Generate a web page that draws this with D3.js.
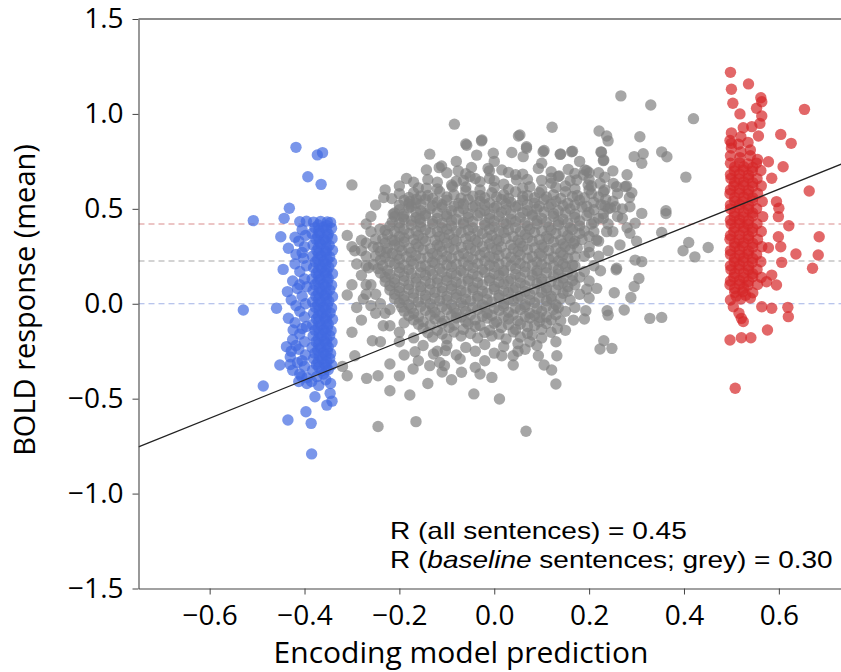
<!DOCTYPE html>
<html><head><meta charset="utf-8">
<script src="https://cdn.jsdelivr.net/npm/d3@7"></script>
<style>body{margin:0;background:#fff}svg{display:block}</style>
</head><body>
<svg id="chart" width="841" height="672"></svg>
<script>
// ---------- data ----------
const xTicks = [-0.6, -0.4, -0.2, 0.0, 0.2, 0.4, 0.6];
const yTicks = [-1.5, -1.0, -0.5, 0.0, 0.5, 1.0, 1.5];
const xLabel = "Encoding model prediction";
const yLabel = "BOLD response (mean)";
const refLineValues = [0.42, 0.225, 0.0];   // red mean, grey mean, blue mean
const fitSlope = 1.005, fitIntercept = 0.0;
const rAll = "0.45", rBaseline = "0.30";

const greyPoints = [
// core rows
[-0.17,0.585],[-0.14,0.57],[-0.115,0.59],[-0.085,0.575],[-0.06,0.595],[-0.03,0.57],[-0.005,0.585],[0.02,0.575],[0.045,0.59],[0.07,0.57],[0.095,0.585],[0.125,0.575],[0.15,0.59],[0.175,0.57],[0.205,0.58],
[-0.19,0.545],[-0.165,0.53],[-0.145,0.55],[-0.12,0.535],[-0.1,0.545],[-0.075,0.53],[-0.055,0.55],[-0.03,0.54],[-0.01,0.53],[0.015,0.55],[0.035,0.535],[0.06,0.545],[0.085,0.53],[0.105,0.55],[0.13,0.54],[0.155,0.53],[0.18,0.545],[0.21,0.535],[0.235,0.55],
[-0.2,0.495],[-0.18,0.505],[-0.155,0.49],[-0.135,0.5],[-0.11,0.51],[-0.09,0.49],[-0.065,0.5],[-0.045,0.51],[-0.02,0.49],[0.0,0.505],[0.025,0.495],[0.045,0.51],[0.07,0.49],[0.09,0.5],[0.115,0.51],[0.135,0.49],[0.16,0.5],[0.185,0.51],[0.21,0.495],[0.245,0.505],
[-0.21,0.46],[-0.19,0.445],[-0.165,0.455],[-0.145,0.465],[-0.12,0.45],[-0.1,0.46],[-0.08,0.445],[-0.055,0.455],[-0.035,0.465],[-0.01,0.45],[0.01,0.46],[0.035,0.445],[0.055,0.455],[0.08,0.465],[0.1,0.45],[0.125,0.46],[0.145,0.445],[0.17,0.455],[0.195,0.465],[0.22,0.45],
[-0.22,0.41],[-0.2,0.4],[-0.175,0.415],[-0.155,0.405],[-0.13,0.42],[-0.11,0.4],[-0.09,0.41],[-0.065,0.42],[-0.045,0.4],[-0.02,0.415],[0.0,0.405],[0.025,0.42],[0.045,0.4],[0.07,0.41],[0.09,0.42],[0.115,0.405],[0.135,0.415],[0.16,0.4],[0.18,0.41],[0.205,0.42],
[-0.225,0.365],[-0.2,0.355],[-0.18,0.37],[-0.16,0.36],[-0.135,0.375],[-0.115,0.355],[-0.095,0.365],[-0.07,0.375],[-0.05,0.355],[-0.025,0.37],[-0.005,0.36],[0.02,0.375],[0.04,0.355],[0.065,0.365],[0.085,0.375],[0.11,0.355],[0.13,0.37],[0.155,0.36],[0.18,0.37],[0.2,0.355],
[-0.23,0.32],[-0.21,0.31],[-0.19,0.325],[-0.165,0.315],[-0.145,0.33],[-0.12,0.31],[-0.1,0.32],[-0.08,0.33],[-0.055,0.31],[-0.035,0.325],[-0.01,0.315],[0.01,0.33],[0.035,0.31],[0.055,0.32],[0.08,0.33],[0.1,0.31],[0.125,0.325],[0.145,0.315],[0.17,0.33],
[-0.24,0.275],[-0.215,0.265],[-0.195,0.28],[-0.175,0.27],[-0.15,0.285],[-0.13,0.265],[-0.11,0.275],[-0.085,0.285],[-0.065,0.265],[-0.04,0.28],[-0.02,0.27],[0.005,0.285],[0.025,0.265],[0.05,0.275],[0.07,0.285],[0.095,0.265],[0.115,0.28],[0.14,0.27],[0.16,0.285],
[-0.24,0.23],[-0.22,0.22],[-0.2,0.235],[-0.175,0.225],[-0.155,0.24],[-0.13,0.22],[-0.11,0.23],[-0.09,0.24],[-0.065,0.22],[-0.045,0.235],[-0.02,0.225],[0.0,0.24],[0.025,0.22],[0.045,0.23],[0.07,0.24],[0.09,0.22],[0.115,0.235],[0.135,0.225],[0.155,0.24],
[-0.245,0.185],[-0.225,0.175],[-0.2,0.19],[-0.18,0.18],[-0.155,0.195],[-0.135,0.175],[-0.115,0.185],[-0.09,0.195],[-0.07,0.175],[-0.045,0.19],[-0.025,0.18],[0.0,0.195],[0.02,0.175],[0.045,0.185],[0.065,0.195],[0.09,0.175],[0.11,0.19],[0.135,0.18],[0.15,0.195],
[-0.23,0.14],[-0.21,0.13],[-0.19,0.145],[-0.165,0.135],[-0.145,0.15],[-0.12,0.13],[-0.1,0.14],[-0.08,0.15],[-0.055,0.13],[-0.035,0.145],[-0.01,0.135],[0.01,0.15],[0.035,0.13],[0.055,0.14],[0.08,0.15],[0.1,0.13],[0.125,0.145],[0.145,0.135],[0.165,0.15],
[-0.22,0.095],[-0.2,0.085],[-0.18,0.1],[-0.155,0.09],[-0.135,0.105],[-0.11,0.085],[-0.09,0.095],[-0.07,0.105],[-0.045,0.085],[-0.025,0.1],[0.0,0.09],[0.02,0.105],[0.045,0.085],[0.065,0.095],[0.09,0.105],[0.11,0.085],[0.135,0.1],[0.155,0.09],
[-0.21,0.05],[-0.19,0.04],[-0.17,0.055],[-0.145,0.045],[-0.125,0.06],[-0.1,0.04],[-0.08,0.05],[-0.06,0.06],[-0.035,0.04],[-0.015,0.055],[0.01,0.045],[0.03,0.06],[0.055,0.04],[0.075,0.05],[0.1,0.06],[0.12,0.04],[0.145,0.055],
[-0.2,0.005],[-0.18,-0.005],[-0.16,0.01],[-0.135,0.0],[-0.115,0.015],[-0.09,-0.005],[-0.07,0.005],[-0.05,0.015],[-0.025,-0.005],[-0.005,0.01],[0.02,0.0],[0.04,0.015],[0.065,-0.005],[0.085,0.005],[0.11,0.015],[0.13,-0.005],
[-0.19,-0.04],[-0.17,-0.05],[-0.145,-0.035],[-0.125,-0.045],[-0.1,-0.03],[-0.08,-0.05],[-0.06,-0.04],[-0.035,-0.03],[-0.015,-0.05],[0.01,-0.035],[0.03,-0.045],[0.055,-0.03],[0.075,-0.05],[0.1,-0.04],[0.125,-0.03],
[-0.17,-0.085],[-0.15,-0.095],[-0.125,-0.08],[-0.105,-0.09],[-0.08,-0.075],[-0.06,-0.095],[-0.04,-0.085],[-0.015,-0.075],[0.005,-0.095],[0.03,-0.08],[0.05,-0.09],[0.075,-0.075],[0.095,-0.095],[0.12,-0.085],
[-0.15,-0.13],[-0.12,-0.14],[-0.095,-0.125],[-0.065,-0.135],[-0.04,-0.12],[-0.01,-0.14],[0.015,-0.125],[0.045,-0.135],[0.07,-0.12],[0.1,-0.135],
[-0.13,-0.175],[-0.1,-0.185],[-0.07,-0.17],[-0.035,-0.18],[-0.005,-0.17],[0.025,-0.185],[0.055,-0.175],[0.08,-0.165],
[-0.1,-0.22],[-0.06,-0.23],[-0.02,-0.215],[0.02,-0.225],[0.05,-0.21],
// core, in-between rows
[-0.18,0.56],[-0.155,0.568],[-0.13,0.555],[-0.1,0.562],[-0.07,0.556],[-0.045,0.566],[-0.02,0.558],[0.005,0.563],[0.03,0.555],[0.06,0.566],[0.085,0.558],[0.11,0.562],[0.14,0.555],[0.165,0.565],[0.19,0.558],[0.22,0.562],
[-0.2,0.52],[-0.175,0.512],[-0.155,0.524],[-0.13,0.516],[-0.11,0.522],[-0.085,0.514],[-0.065,0.526],[-0.04,0.516],[-0.02,0.52],[0.005,0.513],[0.025,0.525],[0.05,0.517],[0.07,0.522],[0.095,0.514],[0.12,0.524],[0.145,0.516],[0.17,0.521],[0.195,0.513],[0.225,0.522],
[-0.21,0.478],[-0.19,0.472],[-0.165,0.482],[-0.145,0.474],[-0.12,0.48],[-0.1,0.471],[-0.075,0.483],[-0.055,0.475],[-0.03,0.479],[-0.01,0.472],[0.015,0.482],[0.035,0.474],[0.06,0.48],[0.08,0.471],[0.105,0.483],[0.125,0.475],[0.15,0.479],[0.17,0.472],[0.2,0.481],[0.23,0.474],
[-0.215,0.432],[-0.2,0.426],[-0.175,0.436],[-0.155,0.428],[-0.13,0.434],[-0.11,0.425],[-0.09,0.437],[-0.065,0.429],[-0.045,0.433],[-0.02,0.426],[0.0,0.436],[0.02,0.428],[0.045,0.434],[0.065,0.425],[0.09,0.437],[0.11,0.429],[0.135,0.433],[0.155,0.426],[0.18,0.436],[0.21,0.428],
[-0.23,0.387],[-0.21,0.381],[-0.19,0.391],[-0.165,0.383],[-0.145,0.389],[-0.12,0.38],[-0.1,0.392],[-0.08,0.384],[-0.055,0.388],[-0.035,0.381],[-0.01,0.391],[0.01,0.383],[0.03,0.389],[0.055,0.38],[0.075,0.392],[0.1,0.384],[0.12,0.388],[0.145,0.381],[0.165,0.391],[0.19,0.383],
[-0.235,0.342],[-0.215,0.336],[-0.19,0.346],[-0.17,0.338],[-0.15,0.344],[-0.125,0.335],[-0.105,0.347],[-0.085,0.339],[-0.06,0.343],[-0.04,0.336],[-0.015,0.346],[0.005,0.338],[0.025,0.344],[0.05,0.335],[0.07,0.347],[0.095,0.339],[0.115,0.343],[0.14,0.336],[0.16,0.346],[0.185,0.338],
[-0.245,0.297],[-0.225,0.291],[-0.2,0.301],[-0.18,0.293],[-0.16,0.299],[-0.135,0.29],[-0.115,0.302],[-0.095,0.294],[-0.07,0.298],[-0.05,0.291],[-0.025,0.301],[-0.005,0.293],[0.015,0.299],[0.04,0.29],[0.06,0.302],[0.085,0.294],[0.105,0.298],[0.13,0.291],[0.15,0.301],[0.175,0.293],
[-0.25,0.252],[-0.23,0.246],[-0.205,0.256],[-0.185,0.248],[-0.165,0.254],[-0.14,0.245],[-0.12,0.257],[-0.1,0.249],[-0.075,0.253],[-0.055,0.246],[-0.03,0.256],[-0.01,0.248],[0.01,0.254],[0.035,0.245],[0.055,0.257],[0.08,0.249],[0.1,0.253],[0.125,0.246],[0.145,0.256],[0.17,0.248],
[-0.255,0.207],[-0.235,0.201],[-0.21,0.211],[-0.19,0.203],[-0.17,0.209],[-0.145,0.2],[-0.125,0.212],[-0.1,0.204],[-0.08,0.208],[-0.055,0.201],[-0.035,0.211],[-0.01,0.203],[0.01,0.209],[0.035,0.2],[0.055,0.212],[0.08,0.204],[0.1,0.208],[0.125,0.201],[0.145,0.211],[0.165,0.203],
[-0.24,0.162],[-0.22,0.156],[-0.2,0.166],[-0.175,0.158],[-0.155,0.164],[-0.13,0.155],[-0.11,0.167],[-0.09,0.159],[-0.065,0.163],[-0.045,0.156],[-0.02,0.166],[0.0,0.158],[0.02,0.164],[0.045,0.155],[0.065,0.167],[0.09,0.159],[0.11,0.163],[0.135,0.156],[0.155,0.166],
[-0.23,0.117],[-0.21,0.111],[-0.19,0.121],[-0.165,0.113],[-0.145,0.119],[-0.12,0.11],[-0.1,0.122],[-0.08,0.114],[-0.055,0.118],[-0.035,0.111],[-0.01,0.121],[0.01,0.113],[0.03,0.119],[0.055,0.11],[0.075,0.122],[0.1,0.114],[0.12,0.118],[0.145,0.111],[0.165,0.121],
[-0.22,0.072],[-0.2,0.066],[-0.18,0.076],[-0.155,0.068],[-0.135,0.074],[-0.11,0.065],[-0.09,0.077],[-0.07,0.069],[-0.045,0.073],[-0.025,0.066],[0.0,0.076],[0.02,0.068],[0.04,0.074],[0.065,0.065],[0.085,0.077],[0.11,0.069],[0.13,0.073],[0.155,0.066],
[-0.21,0.027],[-0.19,0.021],[-0.17,0.031],[-0.145,0.023],[-0.125,0.029],[-0.1,0.02],[-0.08,0.032],[-0.06,0.024],[-0.035,0.028],[-0.015,0.021],[0.01,0.031],[0.03,0.023],[0.05,0.029],[0.075,0.02],[0.095,0.032],[0.12,0.024],[0.14,0.028],
[-0.195,-0.018],[-0.175,-0.024],[-0.155,-0.014],[-0.13,-0.022],[-0.11,-0.016],[-0.085,-0.025],[-0.065,-0.013],[-0.045,-0.021],[-0.02,-0.017],[0.0,-0.024],[0.02,-0.014],[0.045,-0.022],[0.065,-0.016],[0.09,-0.025],[0.11,-0.013],[0.135,-0.021],
[-0.18,-0.063],[-0.16,-0.069],[-0.135,-0.059],[-0.115,-0.067],[-0.09,-0.061],[-0.07,-0.07],[-0.05,-0.058],[-0.025,-0.066],[-0.005,-0.062],[0.02,-0.069],[0.04,-0.059],[0.065,-0.067],[0.085,-0.061],[0.11,-0.07],[0.13,-0.058],
[-0.16,-0.108],[-0.135,-0.114],[-0.11,-0.104],[-0.085,-0.112],[-0.055,-0.106],[-0.03,-0.115],[0.0,-0.103],[0.03,-0.111],[0.055,-0.107],[0.085,-0.114],[0.11,-0.104],
[-0.14,-0.153],[-0.11,-0.159],[-0.085,-0.149],[-0.05,-0.157],[-0.02,-0.151],[0.01,-0.16],[0.04,-0.148],[0.07,-0.156],
[-0.16,0.61],[-0.12,0.605],[-0.06,0.615],[-0.03,0.6],[0.0,0.612],[0.03,0.603],[0.06,0.61],[0.1,0.6],[0.13,0.612],[0.17,0.605],
[-0.14,0.655],[-0.08,0.645],[-0.04,0.66],[0.0,0.648],[0.07,0.655],[0.12,0.662],[0.16,0.648],[0.2,0.655],
[-0.1,0.69],[-0.06,0.685],[0.03,0.692],[0.06,0.683],[0.12,0.695],[0.17,0.686],[0.22,0.69],
// ragged edge of the core
[-0.26,0.46],[-0.25,0.52],[-0.23,0.6],[-0.2,0.58],[-0.26,0.38],[-0.27,0.32],[-0.25,0.34],
[-0.27,0.2],[-0.28,0.28],[-0.27,0.1],[-0.25,0.05],[-0.24,0.0],[-0.23,-0.05],[-0.22,-0.03],
[-0.19,-0.1],[-0.2,-0.15],[-0.17,-0.18],[-0.12,-0.25],[-0.08,-0.27],[-0.04,-0.25],[0.0,-0.26],[0.05,-0.25],[0.09,-0.22],[0.1,-0.18],[0.13,-0.2],[0.15,-0.14],[-0.16,-0.3],[-0.11,-0.36],[-0.03,-0.37],
[0.17,0.2],[0.19,0.17],[0.18,0.05],[0.17,-0.02],[0.19,-0.08],[0.2,0.12],[0.22,0.25],[0.23,0.45],[0.21,0.38],[0.24,0.5],[0.27,0.45],[0.3,0.33],
[-0.17,0.64],[-0.2,0.62],[0.25,0.7],[0.28,0.68],[-0.08,0.75],[0.0,0.75],[0.1,0.74],[0.18,0.75],
// upper / right fringe
[-0.084,0.946],[0.267,1.095],[0.33,1.047],[0.42,0.975],[0.122,0.93],[0.221,0.91],[0.237,0.884],[0.24,0.858],[0.307,0.88],[0.353,0.8],[0.364,0.774],[0.295,0.775],[0.314,0.79],[0.311,0.74],[0.404,0.667],[0.362,0.49],[0.362,0.475],[0.353,0.375],[0.41,0.323],[0.398,0.279],[0.451,0.296],[0.423,0.247],
[0.224,0.174],[0.257,0.179],[0.305,0.133],[0.295,0.091],[0.288,0.033],[0.253,0.058],[0.274,-0.033],[0.238,-0.037],[0.24,-0.06],[0.328,-0.077],[0.353,-0.072],[0.231,-0.195],[0.223,-0.238],[0.248,-0.235],[0.195,0.077],[0.216,0.081],[0.193,-0.037],[0.167,-0.086],[0.133,-0.13],[0.12,-0.15],[0.093,-0.274],[0.132,-0.274],[0.105,-0.323],[0.121,-0.349],[0.13,-0.423],[0.067,-0.672],[0.065,-0.24],[0.075,-0.2],[0.096,-0.072],
// lower / left fringe
[-0.28,-0.086],[-0.31,0.046],[-0.294,-0.274],[-0.31,-0.379],[-0.269,-0.393],[-0.245,-0.379],[-0.22,-0.317],[-0.22,-0.458],[-0.178,-0.481],[-0.245,-0.647],[-0.165,-0.621],[-0.171,-0.344],[-0.257,-0.195],[-0.234,-0.116],[-0.22,-0.116],[-0.136,-0.326],[-0.115,-0.309],[-0.105,-0.326],[-0.072,-0.291],[-0.069,-0.361],[-0.04,-0.335],[-0.043,-0.475],[-0.005,-0.388],[0.011,-0.502],[-0.167,-0.253],[-0.128,-0.265],[-0.103,-0.247],[0.016,-0.274],[0.04,-0.274],[0.04,-0.323],[-0.276,0.025],[-0.26,-0.01],
[-0.31,0.36],[-0.3,0.3],[-0.27,0.25],[-0.28,0.15],[-0.26,0.1],[-0.3,0.1],[-0.27,0.05],[-0.29,-0.02],[-0.3,-0.15],[-0.32,-0.33],[-0.265,0.19],[-0.255,0.3],[-0.27,0.42],[-0.25,-0.05],[-0.24,-0.2],[-0.2,-0.2],[-0.19,-0.27],[-0.15,-0.22],[-0.2,-0.38],[-0.14,-0.42],[-0.09,-0.4],[-0.02,-0.3],
[-0.3,0.626],[-0.185,0.66],[-0.136,0.788],[-0.143,0.705],[-0.111,0.726],[-0.076,0.7],[-0.058,0.835],[-0.027,0.858],[-0.037,0.783],[-0.002,0.793],[0.037,0.797],[0.051,0.884],[-0.048,0.718],[-0.01,0.7],[-0.233,0.56],[-0.216,0.554],[-0.18,0.525],[-0.164,0.551],[-0.143,0.609],[-0.088,0.616],[-0.213,0.472],[-0.192,0.458],[-0.241,0.393],[-0.28,0.335],[-0.294,0.279],[-0.29,0.209],[-0.21,0.332],[-0.227,0.27],[-0.157,0.446],
[-0.06,0.842],[-0.026,0.863],[0.068,0.827],[0.103,0.801],[0.139,0.787],[0.163,0.801],[0.226,0.798],[0.23,0.754],[-0.116,0.717],[-0.013,0.713],[0.016,0.705],[0.061,0.775],[0.093,0.713],[0.135,0.67],[0.156,0.708],[0.191,0.705],[0.2,0.69],[-0.09,0.626],[-0.051,0.67],[-0.03,0.643],[0.047,0.652],[0.075,0.617],[0.1,0.65],[0.174,0.652],[0.198,0.626],[0.223,0.634],[0.251,0.634],[0.276,0.617],[-0.178,0.538],
[-0.12,0.64],[-0.065,0.65],[-0.01,0.66],[0.02,0.63],[0.045,0.68],[0.12,0.635],[0.15,0.62],[0.2,0.6],[0.23,0.59],[0.26,0.58],[0.285,0.56],[0.25,0.54],[0.27,0.5],[0.26,0.46],[0.24,0.42],[0.25,0.38],[0.28,0.4],[0.22,0.33],[0.2,0.3],[0.24,0.28],[0.19,0.25],[0.21,0.2],[0.18,0.14],[0.17,0.1],[0.2,0.03],[0.16,0.02],[0.15,-0.04],[0.14,-0.09],
[0.054,0.889],[0.068,0.819],[0.105,0.807],[0.14,0.789],[0.165,0.803],[0.225,0.8],[0.231,0.757],[0.195,0.701],[0.188,0.678],[0.137,0.673],[0.233,0.666],[0.205,0.62],[0.233,0.6],[0.258,0.617],[0.279,0.62],[0.29,0.585],[0.233,0.515],[0.255,0.511],[0.286,0.511],[0.311,0.476],[0.297,0.424],[0.286,0.371],[0.237,0.38],[0.265,0.31],[0.258,0.187],[0.297,0.23],[0.311,0.222],[0.216,0.336],[0.167,0.318],[0.2,0.27]
];

const bluePoints = [
[-0.418,0.824],[-0.373,0.784],[-0.362,0.796],[-0.393,0.669],[-0.365,0.629],[-0.432,0.503],[-0.443,0.45],[-0.508,0.438],[-0.45,0.353],[-0.434,0.292],[-0.445,0.181],[-0.436,0.064],[-0.529,-0.033],[-0.459,-0.024],[-0.434,-0.076],[-0.424,-0.138],[-0.438,-0.226],[-0.452,-0.323],[-0.487,-0.433],[-0.406,-0.384],[-0.378,-0.49],[-0.346,-0.472],[-0.353,-0.534],[-0.342,-0.513],[-0.435,-0.612],[-0.397,-0.569],[-0.386,-0.63],[-0.385,-0.791],[-0.412,-0.41],[-0.374,-0.384],[-0.395,-0.42],
[-0.41,0.432],[-0.396,0.435],[-0.381,0.43],[-0.366,0.434],[-0.352,0.431],[-0.345,0.428],
[-0.378,0.4],[-0.36,0.403],[-0.343,0.398],[-0.384,0.37],[-0.368,0.372],[-0.35,0.367],[-0.376,0.34],[-0.359,0.338],[-0.342,0.343],
[-0.382,0.31],[-0.366,0.313],[-0.348,0.308],[-0.374,0.28],[-0.356,0.277],[-0.341,0.282],[-0.383,0.25],[-0.365,0.252],[-0.347,0.247],
[-0.377,0.22],[-0.36,0.223],[-0.343,0.218],[-0.381,0.19],[-0.364,0.187],[-0.349,0.192],[-0.375,0.16],[-0.357,0.163],[-0.341,0.158],
[-0.384,0.13],[-0.367,0.128],[-0.35,0.133],[-0.378,0.1],[-0.36,0.103],[-0.343,0.098],[-0.382,0.07],[-0.364,0.067],[-0.347,0.072],
[-0.376,0.04],[-0.358,0.043],[-0.341,0.038],[-0.383,0.01],[-0.366,0.008],[-0.349,0.013],[-0.377,-0.02],[-0.36,-0.017],[-0.343,-0.022],
[-0.381,-0.05],[-0.363,-0.053],[-0.346,-0.048],[-0.375,-0.08],[-0.357,-0.077],[-0.341,-0.082],[-0.383,-0.11],[-0.366,-0.113],[-0.35,-0.108],
[-0.378,-0.14],[-0.36,-0.137],[-0.344,-0.142],[-0.382,-0.17],[-0.364,-0.173],[-0.347,-0.168],[-0.376,-0.2],[-0.358,-0.197],[-0.342,-0.202],
[-0.384,-0.23],[-0.366,-0.233],[-0.35,-0.228],[-0.378,-0.26],[-0.36,-0.257],[-0.345,-0.262],[-0.381,-0.29],[-0.363,-0.293],[-0.347,-0.288],
[-0.375,-0.32],[-0.357,-0.317],[-0.343,-0.322],[-0.383,-0.35],[-0.364,-0.353],[-0.35,-0.348],
[-0.371,0.415],[-0.353,0.412],[-0.37,0.385],[-0.354,0.387],[-0.372,0.355],[-0.352,0.352],[-0.369,0.325],[-0.355,0.327],[-0.371,0.295],[-0.353,0.292],
[-0.37,0.265],[-0.354,0.267],[-0.372,0.235],[-0.352,0.232],[-0.369,0.205],[-0.355,0.207],[-0.371,0.175],[-0.353,0.172],[-0.37,0.145],[-0.354,0.147],
[-0.372,0.115],[-0.352,0.112],[-0.369,0.085],[-0.355,0.087],[-0.371,0.055],[-0.353,0.052],[-0.37,0.025],[-0.354,0.027],[-0.372,-0.005],[-0.352,-0.008],
[-0.369,-0.035],[-0.355,-0.033],[-0.371,-0.065],[-0.353,-0.068],[-0.37,-0.095],[-0.354,-0.093],[-0.372,-0.125],[-0.352,-0.128],[-0.369,-0.155],[-0.355,-0.153],
[-0.371,-0.185],[-0.353,-0.188],[-0.37,-0.215],[-0.354,-0.213],[-0.372,-0.245],[-0.352,-0.248],[-0.369,-0.275],[-0.355,-0.273],[-0.371,-0.305],[-0.353,-0.308],[-0.37,-0.335],[-0.354,-0.338],
[-0.405,0.39],[-0.398,0.36],[-0.412,0.33],[-0.4,0.3],[-0.418,0.26],[-0.402,0.24],[-0.396,0.2],[-0.41,0.17],[-0.425,0.12],[-0.4,0.13],[-0.395,0.09],[-0.415,0.08],[-0.405,0.04],[-0.428,0.02],[-0.398,0.0],[-0.41,-0.04],[-0.4,-0.07],[-0.42,-0.1],[-0.396,-0.12],[-0.41,-0.16],[-0.425,-0.19],[-0.4,-0.2],[-0.412,-0.24],[-0.398,-0.27],[-0.43,-0.28],[-0.415,-0.31],[-0.4,-0.33],[-0.425,-0.35],[-0.41,-0.37],[-0.395,-0.39],[-0.385,-0.41],[-0.37,-0.43],[-0.355,-0.4],[-0.345,-0.42],[-0.36,-0.37],
[-0.42,0.35],[-0.405,0.27],[-0.42,0.21],[-0.41,0.1],[-0.418,-0.01],[-0.405,-0.13],[-0.418,-0.22],[-0.405,-0.3],[-0.428,-0.25],[-0.43,-0.32]
];

const redPoints = [
[0.498,1.219],[0.536,1.158],[0.5,1.13],[0.503,1.056],[0.562,1.085],[0.564,1.064],[0.518,1.0],[0.553,1.03],[0.564,0.989],[0.56,0.95],[0.654,1.024],[0.525,0.927],[0.543,0.933],[0.557,0.884],[0.604,0.892],[0.626,0.845],[0.5,0.845],[0.609,0.722],[0.578,0.748],[0.585,0.661],[0.664,0.594],[0.595,0.538],[0.6,0.503],[0.599,0.459],[0.621,0.411],[0.599,0.353],[0.604,0.3],[0.578,0.295],[0.685,0.353],[0.636,0.262],[0.683,0.257],[0.606,0.218],[0.671,0.187],[0.585,0.151],[0.595,0.099],[0.574,0.116],[0.564,-0.016],[0.585,-0.024],[0.619,-0.019],[0.62,-0.068],[0.504,-0.016],[0.521,-0.077],[0.525,-0.094],[0.497,-0.191],[0.521,-0.179],[0.541,-0.179],[0.576,-0.138],[0.508,-0.445],[0.516,-0.05],
[0.5,0.9],[0.52,0.88],[0.497,0.86],[0.515,0.84],[0.535,0.85],[0.5,0.82],[0.52,0.8],[0.54,0.81],[0.498,0.78],[0.518,0.77],[0.54,0.78],[0.555,0.76],
[0.498,0.74],[0.517,0.742],[0.535,0.737],[0.553,0.741],[0.506,0.7],[0.525,0.703],[0.544,0.698],[0.562,0.702],
[0.499,0.66],[0.516,0.657],[0.536,0.662],[0.554,0.659],[0.505,0.62],[0.526,0.623],[0.545,0.618],[0.563,0.621],
[0.497,0.58],[0.517,0.583],[0.535,0.578],[0.555,0.581],[0.507,0.54],[0.524,0.537],[0.544,0.542],[0.565,0.539],
[0.498,0.5],[0.516,0.503],[0.536,0.498],[0.553,0.501],[0.506,0.46],[0.525,0.457],[0.545,0.462],[0.566,0.459],
[0.499,0.42],[0.517,0.423],[0.535,0.418],[0.554,0.421],[0.505,0.38],[0.526,0.383],[0.544,0.378],[0.563,0.381],
[0.497,0.34],[0.516,0.337],[0.536,0.342],[0.555,0.339],[0.507,0.3],[0.524,0.303],[0.545,0.298],[0.564,0.301],
[0.498,0.26],[0.517,0.257],[0.535,0.262],[0.553,0.259],[0.506,0.22],[0.525,0.223],[0.544,0.218],[0.562,0.221],
[0.499,0.18],[0.516,0.183],[0.536,0.178],[0.554,0.181],[0.505,0.14],[0.526,0.137],[0.545,0.142],[0.563,0.139],
[0.497,0.1],[0.517,0.103],[0.535,0.098],[0.555,0.101],[0.507,0.06],[0.524,0.063],[0.545,0.058],[0.498,0.02],[0.52,0.025],[0.54,0.03],
[0.507,0.72],[0.526,0.722],[0.545,0.718],[0.498,0.68],[0.517,0.683],[0.536,0.678],[0.507,0.64],[0.526,0.642],[0.545,0.638],[0.498,0.6],[0.517,0.603],[0.536,0.598],
[0.507,0.56],[0.526,0.562],[0.545,0.558],[0.498,0.52],[0.517,0.523],[0.536,0.518],[0.507,0.48],[0.526,0.482],[0.545,0.478],[0.498,0.44],[0.517,0.443],[0.536,0.438],
[0.507,0.4],[0.526,0.402],[0.545,0.398],[0.498,0.36],[0.517,0.363],[0.536,0.358],[0.507,0.32],[0.526,0.322],[0.545,0.318],[0.498,0.28],[0.517,0.283],[0.536,0.278],
[0.507,0.24],[0.526,0.242],[0.545,0.238],[0.498,0.2],[0.517,0.203],[0.536,0.198],[0.507,0.16],[0.526,0.162],[0.545,0.158],[0.498,0.12],[0.517,0.123],[0.536,0.118],
[0.507,0.08],[0.526,0.082],[0.51,0.04],[0.53,0.045]
];

// ---------- chart ----------
const W = 841, H = 672;
const svg = d3.select("#chart");
const x = d3.scaleLinear().domain([-0.75, 0.75]).range([138.5, 850]);
const y = d3.scaleLinear().domain([-1.5, 1.5]).range([588.5, 19]);

svg.append("defs").append("clipPath").attr("id", "clip")
  .append("rect").attr("x", x.range()[0]).attr("y", y.range()[1])
  .attr("width", x.range()[1] - x.range()[0]).attr("height", y.range()[0] - y.range()[1]);

const plot = svg.append("g").attr("clip-path", "url(#clip)");

const refColors = ["#d98c8c", "#a8a8a8", "#a3b3e6"];
plot.selectAll("line.ref").data(refLineValues).join("line")
  .attr("class", "ref")
  .attr("x1", x.range()[0]).attr("x2", x.range()[1])
  .attr("y1", d => y(d)).attr("y2", d => y(d))
  .attr("stroke", (d, i) => refColors[i]).attr("stroke-width", 1.1)
  .attr("stroke-dasharray", "6,4");

function drawPoints(data, color) {
  plot.append("g").selectAll("circle").data(data).join("circle")
    .attr("cx", d => x(d[0])).attr("cy", d => y(d[1]))
    .attr("r", 5.7).attr("fill", color).attr("fill-opacity", 0.7);
}
drawPoints(greyPoints, "#808080");
drawPoints(bluePoints, "#4169e1");
drawPoints(redPoints, "#d62728");

// regression line
const fx = x.domain();
plot.append("line")
  .attr("x1", x(fx[0])).attr("y1", y(fitSlope * fx[0] + fitIntercept))
  .attr("x2", x(fx[1])).attr("y2", y(fitSlope * fx[1] + fitIntercept))
  .attr("stroke", "#222").attr("stroke-width", 1.3);

// axes
const fmt = d3.format(".1f");
const axFont = "'Open Sans', 'Noto Sans', sans-serif";
const yAx = svg.append("g").attr("transform", `translate(${x.range()[0]},0)`)
  .call(d3.axisLeft(y).tickValues(yTicks).tickFormat(fmt).tickSize(6).tickSizeOuter(0).tickPadding(9));
const xAx = svg.append("g").attr("transform", `translate(0,${y.range()[0]})`)
  .call(d3.axisBottom(x).tickValues(xTicks).tickFormat(fmt).tickSize(6).tickSizeOuter(0).tickPadding(11));
[yAx, xAx].forEach(a => {
  a.select(".domain").attr("stroke", "#444").attr("stroke-width", 1.1);
  a.selectAll(".tick line").attr("stroke", "#444").attr("stroke-width", 1);
  a.selectAll(".tick text").attr("font-family", axFont).attr("font-size", 28).attr("fill", "#000");
});
// top spine
svg.append("line").attr("x1", x.range()[0]).attr("x2", W)
  .attr("y1", y.range()[1]).attr("y2", y.range()[1])
  .attr("stroke", "#666").attr("stroke-width", 1.4);

// axis titles
svg.append("text").attr("x", 461).attr("y", 663).attr("text-anchor", "middle")
  .attr("font-family", axFont).attr("font-size", 30).attr("fill", "#000").text(xLabel);
svg.append("text").attr("transform", "translate(35,300) rotate(-90)").attr("text-anchor", "middle")
  .attr("font-family", axFont).attr("font-size", 29).attr("fill", "#000").text(yLabel);

// annotation
const annFont = "'Liberation Sans', Arial, sans-serif";
const t1 = svg.append("text").attr("font-family", annFont).attr("font-size", 23).attr("fill", "#000")
  .text(`R (all sentences) = ${rAll}`);
const t2 = svg.append("text").attr("font-family", annFont).attr("font-size", 23).attr("fill", "#000");
t2.append("tspan").text("R (");
t2.append("tspan").attr("font-style", "italic").text("baseline");
t2.append("tspan").text(` sentences; grey) = ${rBaseline}`);
[[t1, 297, 539], [t2, 443, 568]].forEach(([t, w, by]) => {
  const m = t.node().getComputedTextLength();
  t.attr("transform", `translate(390,${by}) scale(${w / m},1)`);
});
</script>
</body></html>
